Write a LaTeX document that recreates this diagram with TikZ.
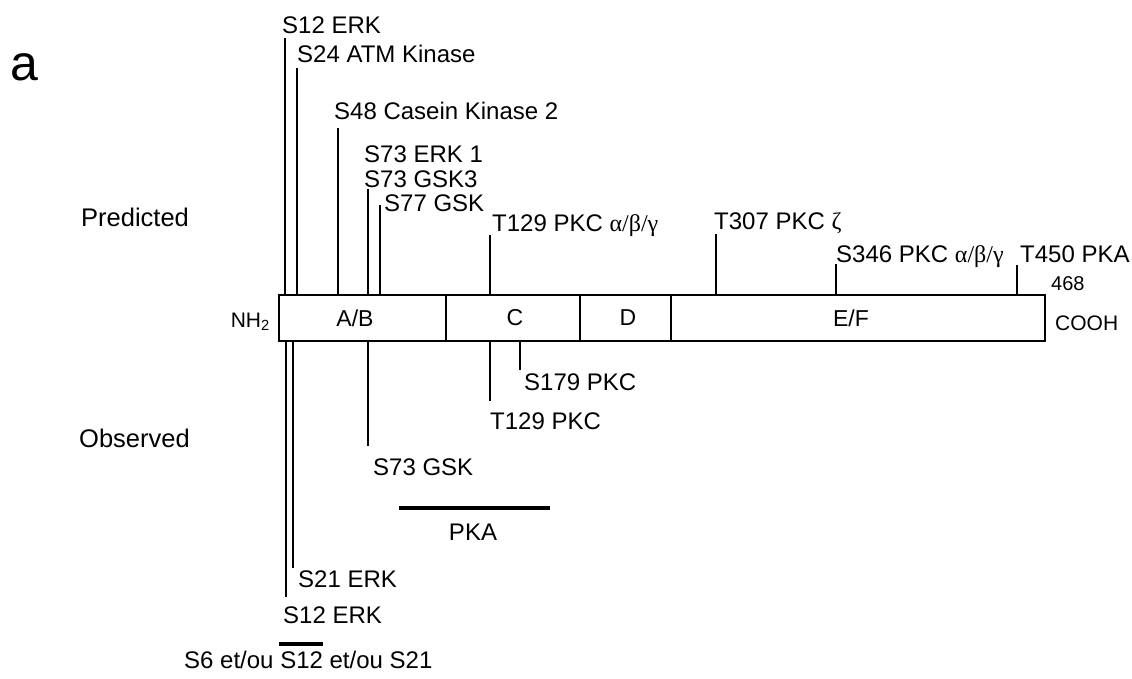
\documentclass[tikz,border=0pt]{standalone}
\usepackage{fontspec}
\setmainfont{Liberation Sans}
\newfontfamily\grk{Liberation Serif}
\begin{document}
\begin{tikzpicture}[x=1pt,y=-1pt,
  lbl/.style={anchor=base west, inner sep=0pt, font=\fontsize{24}{28}\selectfont},
  side/.style={anchor=base west, inner sep=0pt, font=\fontsize{25.5}{30}\selectfont},
  dom/.style={anchor=center, inner sep=0pt, font=\fontsize{23}{28}\selectfont},
  tick/.style={line width=1.8pt, line cap=butt},
  boxline/.style={line width=1.8pt},
  bar/.style={line width=3.2pt}]
\useasboundingbox (0,0) rectangle (1132,678);
% panel letter and side labels
\node[anchor=base west, inner sep=0pt, font=\fontsize{50}{56}\selectfont] (panel) at (10,80) {a};
\node[side] (pred) at (81,226) {Predicted};
\node[side] (obs) at (79,447) {Observed};
% protein box
\draw[boxline] (279,295) rectangle (1045,341);
\draw[boxline] (446,295) -- (446,341);
\draw[boxline] (580,295) -- (580,341);
\draw[boxline] (671,295) -- (671,341);
\node[dom] (ab) at (355,318) {A/B};
\node[dom] (c) at (515,318) {C};
\node[dom] (d) at (628,318) {D};
\node[dom] (ef) at (851,318) {E/F};
\node[anchor=east, inner sep=0pt, font=\fontsize{21}{24}\selectfont] (nh) at (270,322) {NH\textsubscript{2}};
\node[anchor=base west, inner sep=0pt, font=\fontsize{20}{24}\selectfont] (n468) at (1051,290) {468};
\node[anchor=base west, inner sep=0pt, font=\fontsize{21}{24}\selectfont] (cooh) at (1055,330) {COOH};
% predicted sites
\node[lbl] (p12) at (282,33) {S12 ERK};
\node[lbl] (p24) at (297,62) {S24 ATM Kinase};
\node[lbl] (p48) at (334,119) {S48 Casein Kinase 2};
\node[lbl] (p73a) at (364,162) {S73 ERK 1};
\node[lbl] (p73b) at (364,187) {S73 GSK3};
\node[lbl] (p77) at (384,211) {S77 GSK};
\node[lbl] (p129) at (492,231) {T129 PKC {\grk α/β/γ}};
\node[lbl] (p307) at (714,229) {T307 PKC {\grk ζ}};
\node[lbl] (p346) at (836,262) {S346 PKC {\grk α/β/γ}};
\node[lbl] (p450) at (1020,262) {T450 PKA};
\draw[tick] (285,38) -- (285,295);
\draw[tick] (297,68) -- (297,295);
\draw[tick] (338,128) -- (338,295);
\draw[tick] (368,189) -- (368,295);
\draw[tick] (380,205) -- (380,295);
\draw[tick] (490,235) -- (490,295);
\draw[tick] (716,234) -- (716,295);
\draw[tick] (836,264) -- (836,295);
\draw[tick] (1017,265) -- (1017,295);
% observed sites
\node[lbl] (o179) at (524,390) {S179 PKC};
\node[lbl] (o129) at (490,429) {T129 PKC};
\node[lbl] (o73) at (373,475) {S73 GSK};
\node[anchor=base, inner sep=0pt, font=\fontsize{24}{28}\selectfont] (pka) at (473,540) {PKA};
\node[lbl] (o21) at (298,587) {S21 ERK};
\node[lbl] (o12) at (283,623) {S12 ERK};
\node[lbl] (o6) at (184,668) {S6 et/ou S12 et/ou S21};
\draw[tick] (286,341) -- (286,597);
\draw[tick] (293,341) -- (293,568);
\draw[tick] (368,341) -- (368,446);
\draw[tick] (490,341) -- (490,401);
\draw[tick] (520,341) -- (520,370);
\draw[bar] (399,508) -- (550,508);
\draw[bar] (279,644) -- (323,644);
\end{tikzpicture}
\end{document}
